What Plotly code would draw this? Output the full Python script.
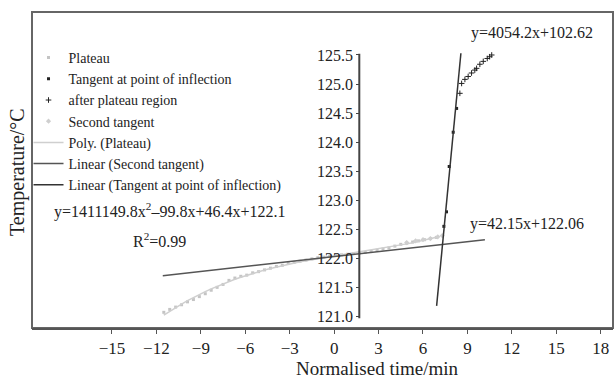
import numpy as np
import plotly.graph_objects as go

# ---------------- data ----------------
plateau_x = [-11.5, -11.1, -10.7, -10.3, -9.9, -9.5, -9.1, -8.7, -8.3, -7.9, -7.5, -7.1,
             -6.7, -6.3, -5.9, -5.5, -5.1, -4.7, -4.3, -3.9, -3.5, -3.1, -2.7, -2.3,
             -1.9, -1.5, -1.1, -0.7, -0.3, 0.1, 0.5, 0.9, 1.3, 1.7, 2.1, 2.5, 2.9, 3.3,
             3.7, 4.1, 4.5, 4.9, 5.3, 5.7, 6.1, 6.5, 6.9]
plateau_y = [121.07, 121.12, 121.16, 121.20, 121.25, 121.29, 121.34, 121.39, 121.45, 121.50,
             121.55, 121.62, 121.66, 121.69, 121.71, 121.75, 121.77, 121.80, 121.83, 121.86,
             121.88, 121.91, 121.93, 121.95, 121.97, 121.99, 122.01, 122.02, 122.04, 122.05,
             122.06, 122.07, 122.08, 122.09, 122.10, 122.12, 122.14, 122.16, 122.18, 122.21,
             122.24, 122.26, 122.28, 122.30, 122.32, 122.34, 122.36]

second_tangent_x = [4.9, 5.5, 6.0, 6.5, 7.0, 7.3]
second_tangent_y = [122.27, 122.30, 122.32, 122.34, 122.37, 122.39]

inflection_x = [7.41, 7.59, 7.77, 8.04, 8.27]
inflection_y = [122.55, 122.80, 123.58, 124.17, 124.58]

after_plateau_x = [8.49, 8.61, 8.83, 9.05, 9.28, 9.50, 9.62, 9.84, 10.07, 10.34, 10.50, 10.64]
after_plateau_y = [124.84, 125.01, 125.08, 125.13, 125.19, 125.24, 125.27, 125.34, 125.39,
                   125.44, 125.47, 125.50]

# trend lines (end points)
second_line_x = [-11.57, 10.18]
second_line_y = [121.70, 122.32]
inflection_line_x = [6.92, 8.56]
inflection_line_y = [121.18, 125.53]

x_ticks = [-15, -12, -9, -6, -3, 0, 3, 6, 9, 12, 15, 18]
x_tick_text = ["\u221215", "\u221212", "\u22129", "\u22126", "\u22123", "0", "3", "6", "9", "12", "15", "18"]
y_ticks = [121.0, 121.5, 122.0, 122.5, 123.0, 123.5, 124.0, 124.5, 125.0, 125.5]

x_range = [-20.4, 18.83]
y_range = [120.80, 126.24]
y_axis_cross_x = 1.7

FONT = "Liberation Serif"
TXT = "#222222"

# polynomial trend of the plateau (derived from the plateau data)
coef = np.polyfit(plateau_x, plateau_y, 3)
poly_y = np.polyval(coef, plateau_x)

fig = go.Figure()
fig.add_trace(go.Scatter(x=plateau_x, y=plateau_y, mode="markers", name="Plateau",
                         marker=dict(symbol="square", size=3, color="#c4c4c4")))
fig.add_trace(go.Scatter(x=inflection_x, y=inflection_y, mode="markers",
                         name="Tangent at point of inflection",
                         marker=dict(symbol="square", size=3, color="#222222")))
fig.add_trace(go.Scatter(x=after_plateau_x, y=after_plateau_y, mode="markers",
                         name="after plateau region",
                         marker=dict(symbol="cross-thin", size=4, color="#222222",
                                     line=dict(width=1, color="#222222"))))
fig.add_trace(go.Scatter(x=second_tangent_x, y=second_tangent_y, mode="markers",
                         name="Second tangent",
                         marker=dict(symbol="diamond", size=4, color="#cfcfcf")))
fig.add_trace(go.Scatter(x=plateau_x, y=poly_y, mode="lines", name="Poly. (Plateau)",
                         line=dict(color="#cfcfcf", width=1.5)))
fig.add_trace(go.Scatter(x=second_line_x, y=second_line_y, mode="lines",
                         name="Linear (Second tangent)",
                         line=dict(color="#555555", width=1.5)))
fig.add_trace(go.Scatter(x=inflection_line_x, y=inflection_line_y, mode="lines",
                         name="Linear (Tangent at point of inflection)",
                         line=dict(color="#333333", width=1.5)))

y_pos = (y_axis_cross_x - x_range[0]) / (x_range[1] - x_range[0])

fig.update_layout(
    width=615, height=378,
    margin=dict(l=32, r=2, t=12, b=50),
    paper_bgcolor="white", plot_bgcolor="rgba(0,0,0,0)",
    font=dict(family=FONT, color=TXT),
    showlegend=True,
    legend=dict(x=-0.006, y=0.905, xanchor="left", yanchor="top",
                bgcolor="rgba(0,0,0,0)", font=dict(size=14, family=FONT, color=TXT),
                itemwidth=30, tracegroupgap=0),
    xaxis=dict(range=x_range, tickvals=x_ticks, ticktext=x_tick_text,
               ticks="outside", ticklen=4, tickcolor="#555555", tickwidth=1,
               showline=True, linecolor="#555555", linewidth=2,
               showgrid=False, zeroline=False,
               tickfont=dict(size=17, family=FONT, color=TXT)),
    yaxis=dict(range=y_range, tickvals=y_ticks, tickformat=".1f",
               anchor="free", position=y_pos, side="left",
               ticks="outside", ticklen=3, tickcolor="#444444",
               showline=False, showgrid=False, zeroline=False,
               tickfont=dict(size=16, family=FONT, color=TXT)),
    shapes=[
        dict(type="rect", xref="paper", yref="paper", x0=0, y0=0, x1=1, y1=1,
             line=dict(color="#666666", width=2), layer="below"),
        dict(type="line", xref="x", yref="y", x0=y_axis_cross_x, x1=y_axis_cross_x,
             y0=y_ticks[0] - 0.03, y1=y_ticks[-1] + 0.02,
             line=dict(color="#444444", width=2)),
    ],
    annotations=[
        dict(text="Temperature/°C", xref="paper", yref="paper", x=-0.024, y=0.494,
             textangle=-90, showarrow=False, font=dict(size=20, family=FONT, color=TXT),
             xanchor="center", yanchor="middle"),
        dict(text="Normalised time/min", xref="paper", yref="paper", x=0.5955, y=-0.127,
             showarrow=False, font=dict(size=19, family=FONT, color=TXT),
             xanchor="center", yanchor="middle"),
        dict(text="y=4054.2x+102.62", x=13.36, y=125.88, showarrow=False,
             font=dict(size=16, family=FONT, color=TXT)),
        dict(text="y=1411149.8x<sup>2</sup>\u201399.8x+46.4x+122.1", x=-11.1, y=122.83,
             showarrow=False, font=dict(size=16, family=FONT, color=TXT)),
        dict(text="R<sup>2</sup>=0.99", x=-11.78, y=122.32, showarrow=False,
             font=dict(size=16, family=FONT, color=TXT)),
        dict(text="y=42.15x+122.06", x=13.0, y=122.59, showarrow=False,
             font=dict(size=16, family=FONT, color=TXT)),
    ],
)

fig.write_html("out.html", config={"displayModeBar": False},
               post_script="document.body.style.margin='0';")
